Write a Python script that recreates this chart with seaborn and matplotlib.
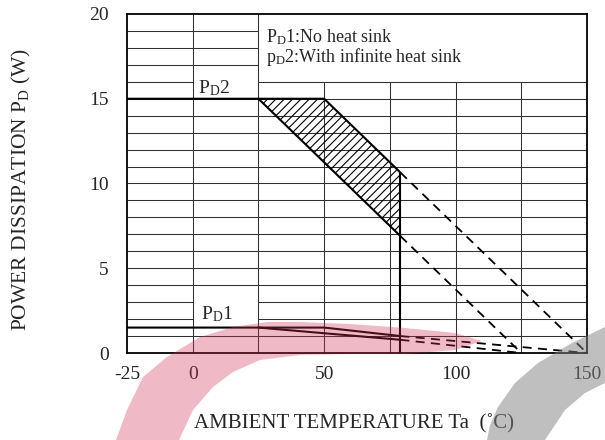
import numpy as np
import matplotlib
matplotlib.use("Agg")
import matplotlib.pyplot as plt
from matplotlib.patches import Polygon
import seaborn as sns

# derating curves (Ta in degC, PD in W)
pd2_upper_t = [-25, 50, 79, 150]
pd2_upper_p = [15, 15, 10.65, 0]
pd2_lower_t = [25, 79, 125]
pd2_lower_p = [15, 6.9, 0]
pd1_upper_t = [-25, 50, 79, 150]
pd1_upper_p = [1.5, 1.5, 1.0, 0]
pd1_lower_t = [25, 79, 125]
pd1_lower_p = [1.5, 0.78, 0]
cutoff_t = 79

x_ticks = [-25, 0, 50, 100, 150]
y_ticks = [0, 5, 10, 15, 20]

sns.set_style("white")
plt.rcParams["font.family"] = ["Liberation Serif", "DejaVu Serif"]
plt.rcParams["mathtext.fontset"] = "custom"
plt.rcParams["mathtext.rm"] = "Liberation Serif"
plt.rcParams["mathtext.it"] = "Liberation Serif:italic"
plt.rcParams["hatch.linewidth"] = 0.8
plt.rcParams["axes.unicode_minus"] = False

W, H = 605, 440
fig = plt.figure(figsize=(W / 100, H / 100), dpi=100)
ax = fig.add_axes([127 / W, 87 / H, 460 / W, 339 / H])
ax.set_xlim(-25, 150)
ax.set_ylim(0, 20)

# grid, with gaps left for the labels and the legend box
GRID = dict(color="#303030", lw=0.75, zorder=1)
for y in range(1, 20):
    if y in (2, 3, 16):
        ax.hlines([y, y], [-25, 25], [0, 150], **GRID)
    elif y <= 15:
        ax.hlines(y, -25, 150, **GRID)
    else:
        ax.hlines(y, -25, 25, **GRID)
ax.vlines([0, 25], 0, 20, **GRID)
ax.vlines([50, 75, 100, 125], 0, 16, **GRID)


def draw_curve(t, p):
    t = np.array(t, float)
    p = np.array(p, float)
    solid = t <= cutoff_t
    dashed = t >= cutoff_t
    sns.lineplot(x=t[solid], y=p[solid], ax=ax, color="black", lw=1.5,
                 sort=False, estimator=None, zorder=3)
    sns.lineplot(x=t[dashed], y=p[dashed], ax=ax, color="black", lw=1.3,
                 sort=False, estimator=None, zorder=3, linestyle=(0, (5, 3.5)))


for t, p in [(pd2_upper_t, pd2_upper_p), (pd2_lower_t, pd2_lower_p),
             (pd1_upper_t, pd1_upper_p), (pd1_lower_t, pd1_lower_p)]:
    draw_curve(t, p)

# hatched band between the PD2 curves
hx = np.array([25, 50, cutoff_t])
hi = np.interp(hx, pd2_upper_t, pd2_upper_p)
lo = np.interp(hx, pd2_lower_t, pd2_lower_p)
ax.fill_between(hx, lo, hi, facecolor="none", edgecolor="black", hatch="////",
                lw=0, zorder=2)

# Tj limit line
ax.vlines(cutoff_t, 0, np.interp(cutoff_t, pd2_upper_t, pd2_upper_p),
          color="black", lw=1.5, zorder=3)

ax.text(2, 15.05, r"P$_{\mathrm{D}}$2", fontsize=14, va="bottom", ha="left")
ax.text(3, 1.7, r"P$_{\mathrm{D}}$1", fontsize=14, va="bottom", ha="left")
ax.text(28, 18.35, r"P$_{\mathrm{D}}$1:No heat sink", fontsize=13, va="baseline")
ax.text(28, 17.15, r"p$_{\mathrm{D}}$2:With infinite heat sink", fontsize=13,
        va="baseline")

ax.set_xticks(x_ticks)
ax.set_yticks(y_ticks)
ax.tick_params(length=0, labelsize=14)
ax.tick_params(axis="x", pad=9)
ax.tick_params(axis="y", pad=13)
for s in ax.spines.values():
    s.set_color("black")
    s.set_linewidth(1.3)
ax.set_xlabel("AMBIENT TEMPERATURE Ta  (\u02daC)", fontsize=15)
ax.set_ylabel(r"POWER DISSIPATION P$_{\mathrm{D}}$ (W)", fontsize=15.5)
ax.xaxis.set_label_coords(0.4935, -0.18)
ax.yaxis.set_label_coords(-0.205, 0.484)

# watermark arcs over the chart (pixel positions)
red = [(116, 440), (127, 410), (143, 377), (167, 357), (200, 337), (233, 327),
       (267, 322), (300, 322), (350, 324), (405, 328), (455, 333), (482, 341),
       (455, 350), (405, 354), (350, 354), (300, 355), (260, 360), (233, 372),
       (213, 387), (193, 410), (179, 440)]
grey = [(487, 440), (490, 425), (498, 407), (515, 383), (538, 363), (572, 343),
        (605, 327), (605, 383), (585, 393), (565, 410), (545, 440)]
for pts, col, a in [(red, "#D0304F", 0.33), (grey, "#808080", 0.5)]:
    xy = [(px / W, 1 - py / H) for px, py in pts]
    fig.add_artist(Polygon(xy, closed=True, transform=fig.transFigure,
                           facecolor=col, alpha=a, lw=0, zorder=10))

fig.savefig("out.png", dpi=100)
